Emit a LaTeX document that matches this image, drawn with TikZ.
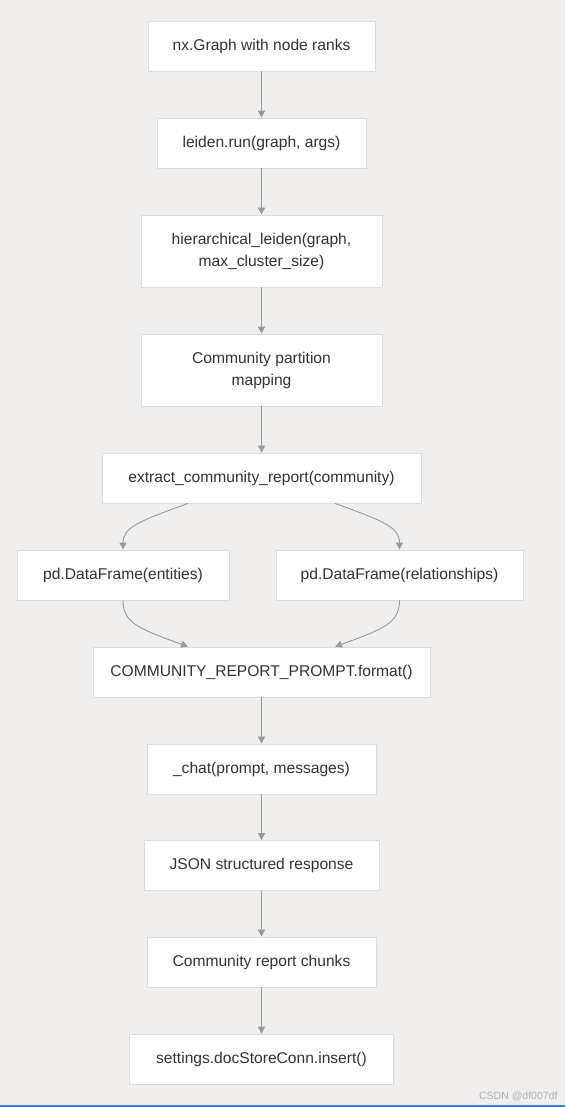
\documentclass[tikz,border=0pt]{standalone}
\usepackage{fontspec}
\setmainfont{Liberation Sans}
\usetikzlibrary{arrows.meta}
\definecolor{bgc}{HTML}{F0EFEE}
\definecolor{boxline}{HTML}{DCDCDC}
\definecolor{arrc}{HTML}{999999}
\definecolor{txt}{HTML}{333333}
\definecolor{bluel}{HTML}{3A7FD5}
\definecolor{wm}{HTML}{B0B0B0}
\begin{document}
\begin{tikzpicture}[x=1pt,y=-1pt,
  box/.style={draw=boxline, line width=0.8pt, fill=white, text=txt, font=\fontsize{15.6}{22}\selectfont, align=center, inner sep=0pt},
  arr/.style={draw=arrc, line width=0.9pt, -{Triangle[width=7pt,length=7pt]}}]
\fill[bgc] (0,0) rectangle (565,1107);
\useasboundingbox (0,0) rectangle (565,1107);
\fill[bluel] (0,1105) rectangle (565,1107);
\node[box, minimum width=227, minimum height=50] (n1) at (261.5,46) {nx.Graph with node ranks};
\node[box, minimum width=209, minimum height=50] (n2) at (261.5,143) {leiden.run(graph, args)};
\node[box, minimum width=241, minimum height=72] (n3) at (261.5,251) {hierarchical\_leiden(graph,\\max\_cluster\_size)};
\node[box, minimum width=241, minimum height=72] (n4) at (261.5,370) {Community partition\\mapping};
\node[box, minimum width=319, minimum height=50] (n5) at (261.5,478) {extract\_community\_report(community)};
\node[box, minimum width=212, minimum height=50] (ent) at (123,575) {pd.DataFrame(entities)};
\node[box, minimum width=247, minimum height=50] (rel) at (399.5,575) {pd.DataFrame(relationships)};
\node[box, minimum width=337, minimum height=50] (n6) at (261.5,672) {COMMUNITY\_REPORT\_PROMPT.format()};
\node[box, minimum width=229, minimum height=50] (n7) at (261.5,769) {\_chat(prompt, messages)};
\node[box, minimum width=235, minimum height=50] (n8) at (261.5,865.5) {JSON structured response};
\node[box, minimum width=229, minimum height=50] (n9) at (261.5,962) {Community report chunks};
\node[box, minimum width=264, minimum height=50] (n10) at (261.5,1059) {settings.docStoreConn.insert()};
\node[text=wm, font=\fontsize{10.5}{12}\selectfont, anchor=east] (wmk) at (561,1096) {CSDN @df007df};
\draw[arr] (n1) -- (n2);
\draw[arr] (n2) -- (n3);
\draw[arr] (n3) -- (n4);
\draw[arr] (n4) -- (n5);
\draw[arr] ([xshift=-73.5pt]n5.south) .. controls +(-50,18) and +(0,-22) .. (ent.north);
\draw[arr] ([xshift=73.5pt]n5.south) .. controls +(50,18) and +(0,-22) .. (rel.north);
\draw[arr] (ent.south) .. controls +(0,22) and +(-50,-18) .. ([xshift=-73.5pt]n6.north);
\draw[arr] (rel.south) .. controls +(0,22) and +(50,-18) .. ([xshift=73.5pt]n6.north);
\draw[arr] (n6) -- (n7);
\draw[arr] (n7) -- (n8);
\draw[arr] (n8) -- (n9);
\draw[arr] (n9) -- (n10);
\end{tikzpicture}
\end{document}
